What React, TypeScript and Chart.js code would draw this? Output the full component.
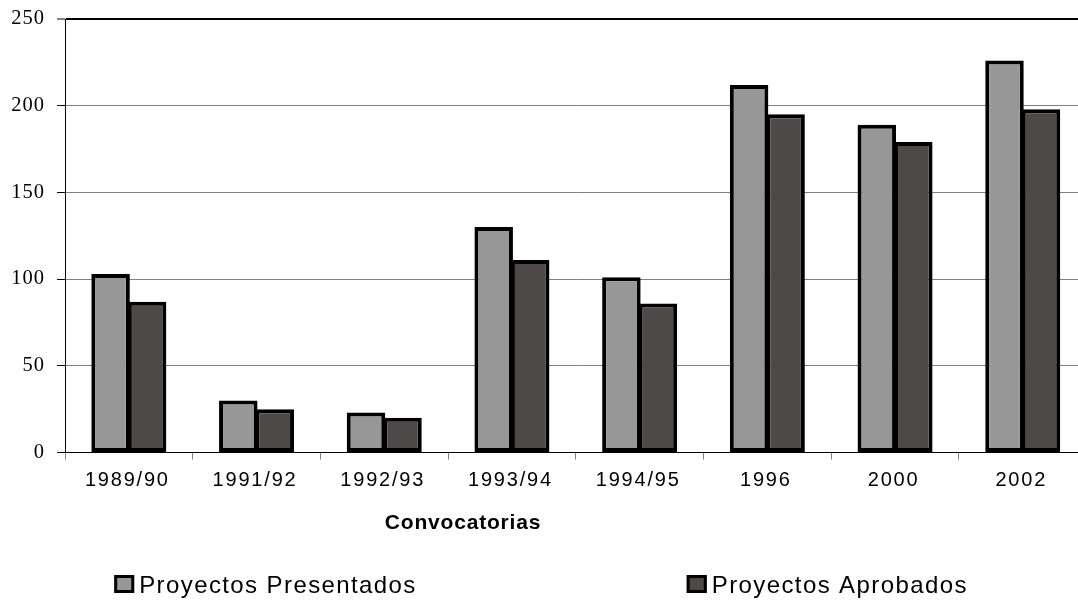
import React, { useEffect, useRef } from "react";
import { Chart, registerables, CategoryScale, LinearScale } from "chart.js";

Chart.register(...registerables);

const categories = ["1989/90", "1991/92", "1992/93", "1993/94", "1994/95", "1996", "2000", "2002"];
const presentados = [103, 30, 23, 130, 101, 212, 189, 226];
const aprobados = [87, 25, 20, 111, 86, 195, 179, 198];
const yTicks = [0, 50, 100, 150, 200, 250];
const seriesNames = ["Proyectos Presentados", "Proyectos Aprobados"];
const axisTitle = "Convocatorias";

class SpacedCategoryScale extends CategoryScale {
  static id = "spacedCategory";
  static defaults = CategoryScale.defaults;
  drawLabels(chartArea: any) {
    const ctx = this.ctx as any;
    ctx.save();
    ctx.letterSpacing = "1.8px";
    super.drawLabels(chartArea);
    ctx.restore();
  }
}

class SpacedLinearScale extends LinearScale {
  static id = "spacedLinear";
  static defaults = LinearScale.defaults;
  drawLabels(chartArea: any) {
    const ctx = this.ctx as any;
    ctx.save();
    ctx.letterSpacing = "1px";
    super.drawLabels(chartArea);
    ctx.restore();
  }
}

Chart.register(SpacedCategoryScale as any, SpacedLinearScale as any);

const overlayPlugin = {
  id: "overlay",
  afterDraw(chart: any) {
    const ctx = chart.ctx;
    ctx.save();
    // axis title
    ctx.font = 'bold 21px "Liberation Sans"';
    ctx.letterSpacing = "0.8px";
    ctx.fillStyle = "#000";
    ctx.textAlign = "center";
    ctx.textBaseline = "alphabetic";
    ctx.fillText(axisTitle, 463, 529);

    // legend
    ctx.font = '24px "Liberation Sans"';
    ctx.letterSpacing = "1.4px";
    ctx.textAlign = "left";
    const boxW = 20;
    const boxH = 18;
    const textGap = 5;
    const itemGap = 270;
    const ds = chart.data.datasets;
    const widths = ds.map((d: any) => boxW + textGap + ctx.measureText(d.label).width);
    const total = widths.reduce((a: number, b: number) => a + b, 0) + itemGap * (ds.length - 1);
    let x = 541 - total / 2;
    const boxTop = 575;
    ds.forEach((d: any, i: number) => {
      ctx.fillStyle = d.backgroundColor;
      ctx.fillRect(x, boxTop, boxW, boxH);
      ctx.strokeStyle = "#000";
      ctx.lineWidth = 3;
      ctx.strokeRect(x + 1.5, boxTop + 1.5, boxW - 3, boxH - 3);
      ctx.fillStyle = "#000";
      ctx.fillText(d.label, x + boxW + textGap, 593);
      x += widths[i] + itemGap;
    });
    ctx.restore();
  },
};

export default function App() {
  const canvasRef = useRef<HTMLCanvasElement | null>(null);

  useEffect(() => {
    document.body.style.margin = "0";
    const canvas = canvasRef.current;
    if (!canvas) return;
    const chart = new Chart(canvas, {
      type: "bar",
      data: {
        labels: categories,
        datasets: [
          {
            label: seriesNames[0],
            data: presentados,
            backgroundColor: "#979797",
            borderColor: "#000",
            borderWidth: 4,
            borderSkipped: false,
            categoryPercentage: 0.5717,
            barPercentage: 1.055,
          },
          {
            label: seriesNames[1],
            data: aprobados,
            backgroundColor: "#4d4949",
            borderColor: "#000",
            borderWidth: 4,
            borderSkipped: false,
            categoryPercentage: 0.5717,
            barPercentage: 1.055,
          },
        ],
      },
      options: {
        animation: false,
        responsive: false,
        devicePixelRatio: 1,
        layout: { padding: { top: 19, left: 0, right: 3.4, bottom: 0 } },
        plugins: {
          legend: { display: false },
          tooltip: { enabled: false },
          title: { display: false },
        },
        scales: {
          x: {
            type: "spacedCategory" as any,
            offset: true,
            grid: {
              offset: true,
              drawOnChartArea: false,
              drawTicks: true,
              tickLength: 7,
              tickColor: "#808080",
              color: "#808080",
            },
            border: { display: true, color: "#000", width: 1 },
            ticks: {
              color: "#000",
              font: { family: '"Liberation Sans"', size: 20 },
              padding: 9,
              labelOffset: -1.5,
              maxRotation: 0,
              autoSkip: false,
            },
            afterFit: (scale: any) => {
              scale.height = 147.5;
              scale.paddingLeft = 0;
              scale.paddingRight = 0;
            },
          } as any,
          y: {
            type: "spacedLinear" as any,
            min: 0,
            max: 250,
            afterBuildTicks: (scale: any) => {
              scale.ticks = yTicks.map((v) => ({ value: v }));
            },
            grid: {
              color: (c: any) => (c.tick && (c.tick.value === 250 || c.tick.value === 0) ? "#000" : "#808080"),
              lineWidth: (c: any) => (c.tick && c.tick.value === 250 ? 2 : 1),
              tickColor: "#000",
              tickWidth: 1,
              tickLength: 8,
              drawTicks: true,
            },
            border: { display: true, color: "#000", width: 1 },
            ticks: {
              color: "#000",
              font: { family: '"Liberation Serif"', size: 20.5 },
              padding: 12,
              labelOffset: 0,
            },
            afterFit: (scale: any) => {
              scale.width = 65;
              scale.paddingTop = 0;
              scale.paddingBottom = 0;
            },
          } as any,
        },
      },
      plugins: [overlayPlugin],
    });
    return () => {
      chart.destroy();
    };
  }, []);

  return (
    <div style={{ width: 1078, height: 600, overflow: "hidden", position: "relative" }}>
      <canvas ref={canvasRef} width={1090} height={600} style={{ display: "block" }} />
    </div>
  );
}
